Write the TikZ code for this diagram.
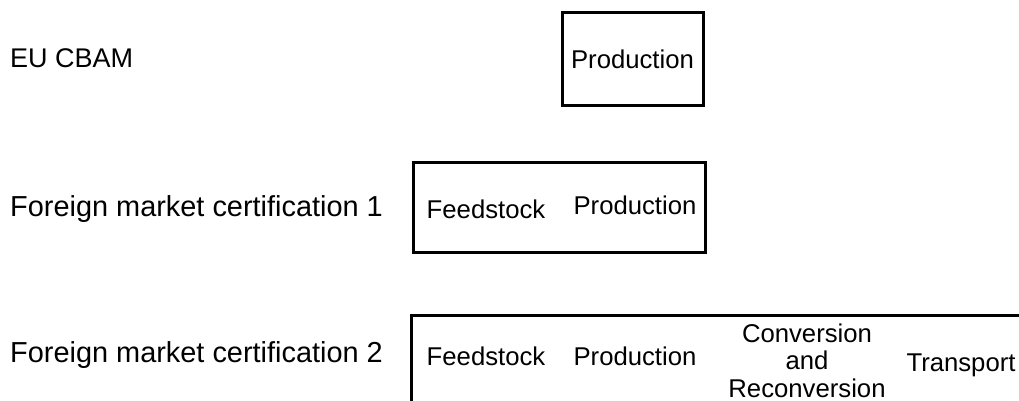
\documentclass[tikz,border=0pt]{standalone}
\usepackage{fontspec}
\setmainfont{Liberation Sans}
\begin{document}
\begin{tikzpicture}[x=1pt,y=-1pt,
  frame/.style={draw=black,line width=3pt,inner sep=0pt},
  lbl/.style={inner sep=0pt,anchor=base west,font=\fontsize{28.9}{32}\selectfont},
  boxtxt/.style={inner sep=0pt,anchor=base,font=\fontsize{25.7}{27.5}\selectfont}]
\useasboundingbox (0,0) rectangle (1019,401);
% row labels
\node[lbl,font=\fontsize{27}{30}\selectfont] (l0) at (10,68) {EU CBAM};
\node[lbl] (l1) at (10,216) {Foreign market certification 1};
\node[lbl] (l2) at (10,362) {Foreign market certification 2};
% box 1
\node[frame,minimum width=141pt,minimum height=93pt,font=\fontsize{25.7}{27.5}\selectfont] (cbam) at (632.5,59.5) {Production};
% box 2
\node[frame,minimum width=292pt,minimum height=90pt] (fm1) at (559,207) {};
\node[boxtxt] (fm1a) at (486,218) {Feedstock};
\node[boxtxt] (fm1b) at (635,214) {Production};
% box 3 (cropped by the picture edge)
\begin{scope}
\clip (0,0) rectangle (1019,401);
\node[frame,minimum width=640pt,minimum height=120pt,anchor=north west] (fm2) at (410,314) {};
\end{scope}
\node[boxtxt] (fm2a) at (486,365) {Feedstock};
\node[boxtxt] (fm2b) at (635,365) {Production};
\node[boxtxt,align=center] (fm2c) at (807,397) {Conversion\\and\\Reconversion};
\node[boxtxt] (fm2d) at (961,371) {Transport};
\end{tikzpicture}
\end{document}
